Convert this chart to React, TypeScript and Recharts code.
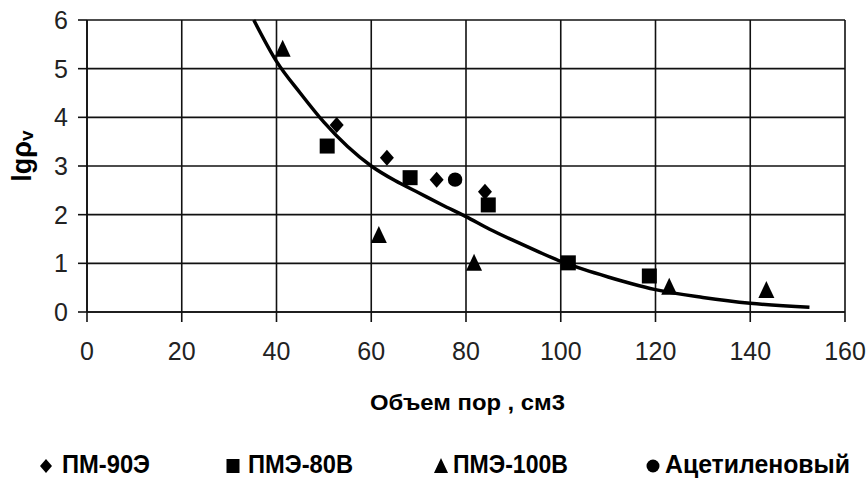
import React from "react";
import { ComposedChart, Line, Scatter, XAxis, YAxis, CartesianGrid } from "recharts";

const xTicks = [0, 20, 40, 60, 80, 100, 120, 140, 160];
const yTicks = [0, 1, 2, 3, 4, 5, 6];

// ПМ-90Э
const pm90X = [52.7, 63.3, 73.8, 84.0];
const pm90Y = [3.84, 3.17, 2.72, 2.47];
// ПМЭ-80В
const pme80X = [50.7, 68.2, 84.7, 101.6, 118.7];
const pme80Y = [3.41, 2.76, 2.2, 1.01, 0.74];
// ПМЭ-100В
const pme100X = [41.3, 61.6, 81.7, 122.9, 143.4];
const pme100Y = [5.41, 1.58, 1.01, 0.52, 0.45];
// Ацетиленовый
const acetX = [77.7];
const acetY = [2.72];

// trend line
const trendX = [35.2, 40, 45, 50, 55, 60, 65, 70, 75, 80, 85, 90, 95, 100, 105, 110, 115, 120, 130, 140, 152.5];
const trendY = [6.0, 5.15, 4.5, 3.9, 3.4, 3.0, 2.7, 2.45, 2.2, 1.96, 1.7, 1.47, 1.25, 1.04, 0.87, 0.72, 0.58, 0.46, 0.3, 0.18, 0.1];

const legendNames = ["ПМ-90Э", "ПМЭ-80В", "ПМЭ-100В", "Ацетиленовый"];

const zip = (xs: number[], ys: number[]) => xs.map((x, i) => ({ x, y: ys[i] }));

const FONT = "'Liberation Sans', Arial, sans-serif";

const Diamond = (p: any) => (
  <polygon points={`${p.cx},${p.cy - 8} ${p.cx + 7},${p.cy} ${p.cx},${p.cy + 8} ${p.cx - 7},${p.cy}`} fill="#000" />
);
const Square = (p: any) => <rect x={p.cx - 7.5} y={p.cy - 7.5} width={15} height={15} fill="#000" />;
const Triangle = (p: any) => (
  <polygon points={`${p.cx},${p.cy - 9} ${p.cx + 8},${p.cy + 8} ${p.cx - 8},${p.cy + 8}`} fill="#000" />
);
const Dot = (p: any) => <circle cx={p.cx} cy={p.cy} r={7.2} fill="#000" />;

// legend marker shapes, drawn around (cx, cy)
const legendMark = (i: number, cx: number, cy: number) => {
  if (i === 0) return <polygon points={`${cx},${cy - 7} ${cx + 6},${cy} ${cx},${cy + 7} ${cx - 6},${cy}`} fill="#000" />;
  if (i === 1) return <rect x={cx - 6.5} y={cy - 7} width={13} height={14} fill="#000" />;
  if (i === 2) return <polygon points={`${cx},${cy - 8} ${cx + 7},${cy + 7} ${cx - 7},${cy + 7}`} fill="#000" />;
  return <circle cx={cx} cy={cy} r={6.5} fill="#000" />;
};
const legendMarkX = [46, 233, 441, 653];
const legendTextX = [62, 248, 453, 665];
const legendTextW = [88, 105, 115, 185];

export default function App() {
  return (
    <div style={{ position: "absolute", left: 0, top: 0, width: 868, height: 479, background: "#fff" }}>
      <ComposedChart width={868} height={479} margin={{ top: 20, right: 23, left: 0, bottom: 107 }}>
        <CartesianGrid stroke="#111" strokeWidth={1.6} />
        <XAxis
          type="number"
          dataKey="x"
          domain={[0, 160]}
          ticks={xTicks}
          interval={0}
          height={60}
          tickSize={10}
          tickMargin={20}
          axisLine={{ stroke: "#111", strokeWidth: 1.6 }}
          tickLine={{ stroke: "#111", strokeWidth: 1.6 }}
          tick={{ fill: "#222", fontSize: 25, fontFamily: FONT }}
        />
        <YAxis
          type="number"
          dataKey="y"
          domain={[0, 6]}
          ticks={yTicks}
          interval={0}
          width={87}
          tickSize={9}
          tickMargin={10}
          axisLine={{ stroke: "#111", strokeWidth: 1.6 }}
          tickLine={{ stroke: "#111", strokeWidth: 1.6 }}
          tick={{ fill: "#222", fontSize: 25, fontFamily: FONT }}
        />
        <Line
          data={zip(trendX, trendY)}
          dataKey="y"
          type="monotone"
          stroke="#000"
          strokeWidth={3.5}
          dot={false}
          activeDot={false}
          isAnimationActive={false}
        />
        <Scatter data={zip(pme100X, pme100Y)} dataKey="y" shape={Triangle} isAnimationActive={false} />
        <Scatter data={zip(pme80X, pme80Y)} dataKey="y" shape={Square} isAnimationActive={false} />
        <Scatter data={zip(pm90X, pm90Y)} dataKey="y" shape={Diamond} isAnimationActive={false} />
        <Scatter data={zip(acetX, acetY)} dataKey="y" shape={Dot} isAnimationActive={false} />
        <text
          transform="translate(31,156) rotate(-90)"
          textAnchor="middle"
          fontFamily={FONT}
          fontWeight="bold"
          fontSize={27}
          fill="#000"
        >
          lgρ<tspan fontSize={19} dy={2}>v</tspan>
        </text>
        <text
          x={370}
          y={410}
          textLength={195}
          lengthAdjust="spacingAndGlyphs"
          fontFamily={FONT}
          fontWeight="bold"
          fontSize={22}
          fill="#000"
        >
          Объем пор , см3
        </text>
        {legendNames.map((name, i) => (
          <g key={name}>
            {legendMark(i, legendMarkX[i], 466)}
            <text
              x={legendTextX[i]}
              y={473}
              textLength={legendTextW[i]}
              lengthAdjust="spacingAndGlyphs"
              fontFamily={FONT}
              fontWeight="bold"
              fontSize={26}
              fill="#000"
            >
              {name}
            </text>
          </g>
        ))}
      </ComposedChart>
    </div>
  );
}
